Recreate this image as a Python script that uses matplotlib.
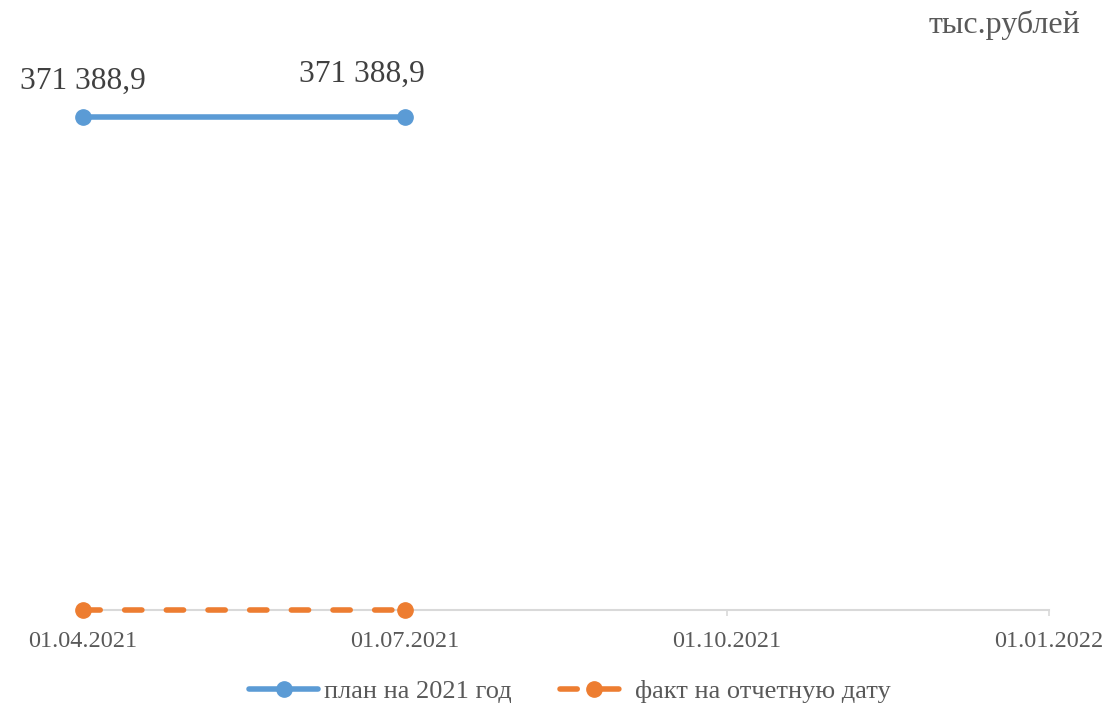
import matplotlib
matplotlib.use("Agg")
import matplotlib.pyplot as plt
from matplotlib.lines import Line2D

categories = ["01.04.2021", "01.07.2021", "01.10.2021", "01.01.2022"]
plan_values = [371388.9, 371388.9]
fact_values = [0.0, 0.0]
plan_labels = ["371 388,9", "371 388,9"]
series_names = ["план на 2021 год", "факт на отчетную дату"]
unit_text = "тыс.рублей"

blue = "#5B9BD5"
orange = "#ED7D31"
text_col = "#595959"
axis_col = "#D9D9D9"

plt.rcParams['font.family'] = ['Liberation Serif', 'DejaVu Serif']

fig = plt.figure(figsize=(11.15, 7.14), dpi=100)
ax = fig.add_axes([83/1115, 1-610/714, (1049-83)/1115, (610-79)/714])

x_plan = list(range(len(plan_values)))
x_fact = list(range(len(fact_values)))

LW = 4
MS = 11
DASH = (3.1, 4.4)

ax.plot(x_plan, plan_values, color=blue, lw=LW, marker='o', ms=MS,
        solid_capstyle='round', zorder=3, clip_on=False)
ax.plot(x_fact, fact_values, color=orange, lw=LW, marker='o', ms=MS,
        dashes=DASH, dash_capstyle='round', zorder=4, clip_on=False)

ax.set_xlim(0, len(categories) - 1)
ax.set_ylim(0, 400000)
ax.set_xticks(range(len(categories)))
ax.set_xticklabels(categories, fontsize=17.5, color=text_col)
ax.tick_params(axis='x', direction='out', length=4, width=1.2, color=axis_col, pad=11)
ax.set_yticks([])
for s in ['top', 'right', 'left']:
    ax.spines[s].set_visible(False)
ax.spines['bottom'].set_color(axis_col)
ax.spines['bottom'].set_linewidth(1.5)
ax.set_facecolor('none')

offsets = [(0, 36), (-43, 43)]
for xi, yv, lab, off in zip(x_plan, plan_values, plan_labels, offsets):
    ax.annotate(lab, (xi, yv), xytext=off, textcoords='offset pixels',
                ha='center', va='center', fontsize=22.6, color='#404040')

fig.text(1080/1115, 1-25/714, unit_text, ha='right', va='center', fontsize=23, color=text_col)

handles = [
    Line2D([], [], color=blue, lw=LW, marker='o', ms=MS, solid_capstyle='round'),
    Line2D([], [], color=orange, lw=LW, marker='o', ms=MS, dashes=DASH, dash_capstyle='round'),
]
fig.legend(handles, series_names, loc='center', bbox_to_anchor=(570/1115, 1-691/714),
           ncol=2, frameon=False, fontsize=19, labelcolor=text_col,
           handlelength=2.6, columnspacing=1.8, handletextpad=0.25)

fig.savefig("out.png", dpi=100)
